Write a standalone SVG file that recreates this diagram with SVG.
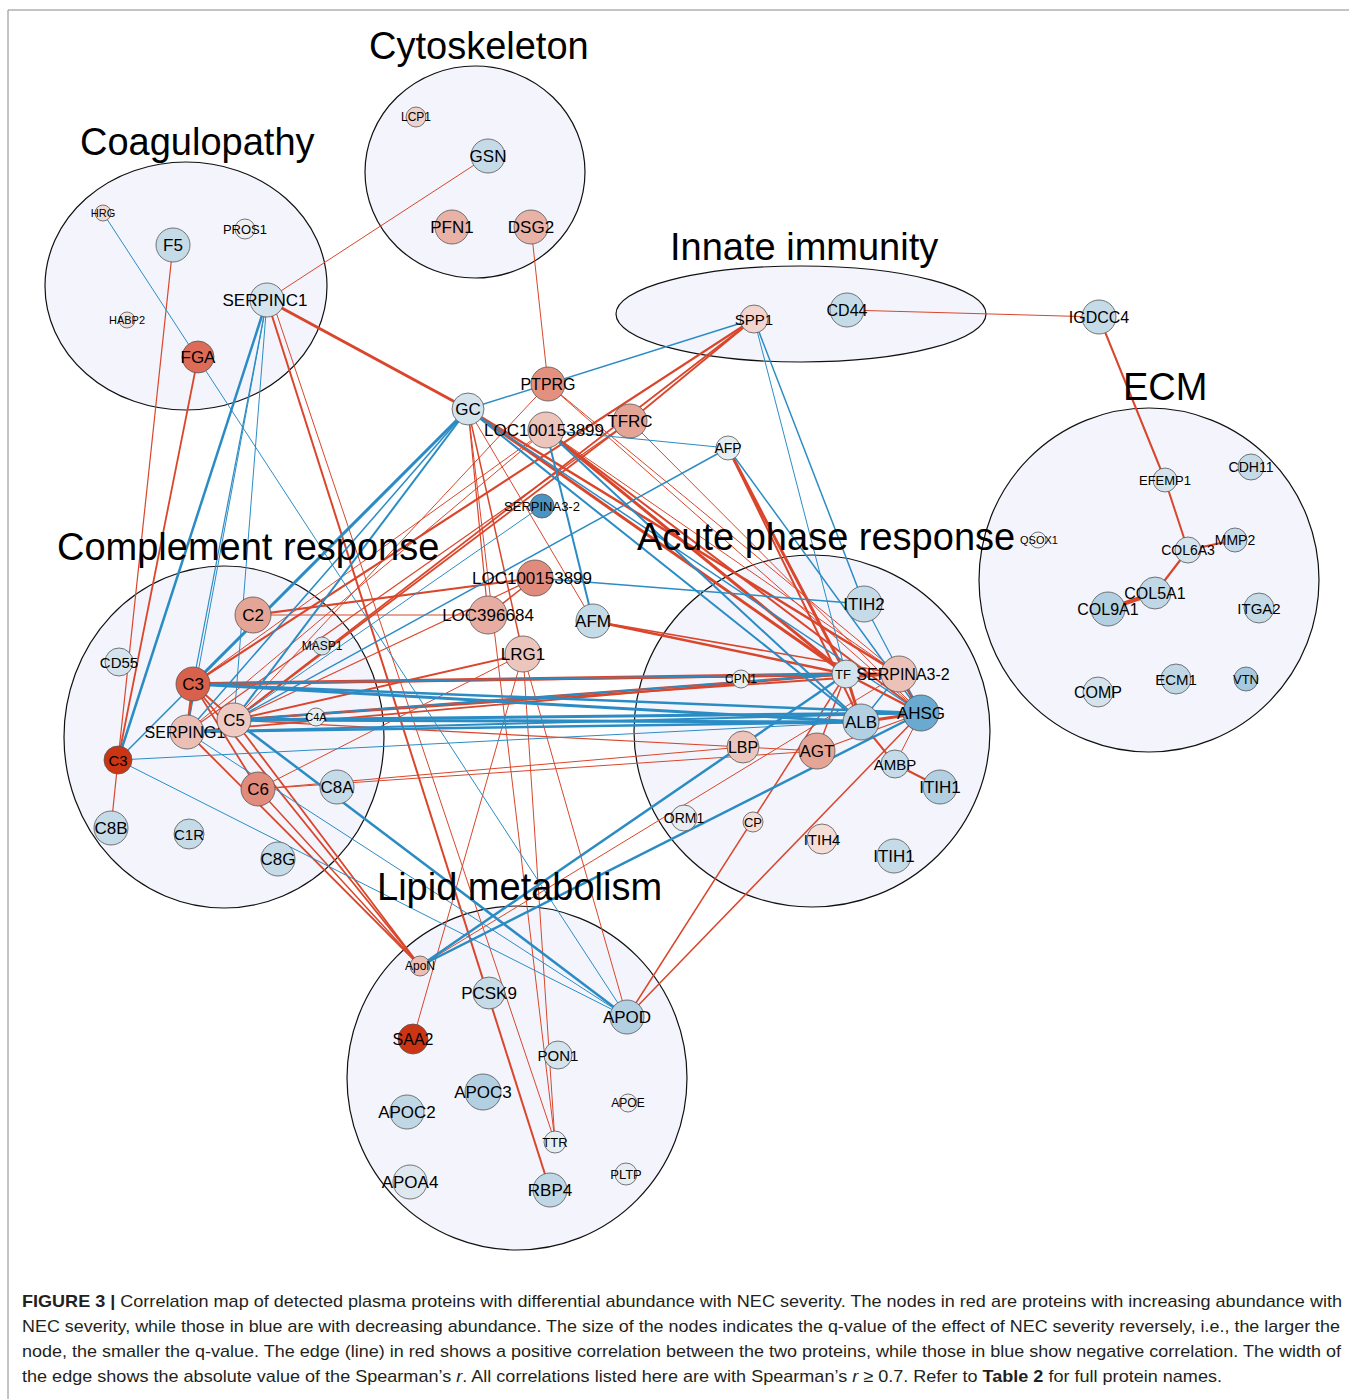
<svg xmlns="http://www.w3.org/2000/svg" width="1349" height="1399" viewBox="0 0 1349 1399">
<style>
text{font-family:"Liberation Sans",Arial,sans-serif;fill:#000}
.grp{fill:#f4f5fc;stroke:#111;stroke-width:1.2}
.title{font-size:38px}
.n{stroke:#555;stroke-width:0.8}
.lbl{text-anchor:middle;dominant-baseline:central}
.r{stroke:#d9462b;fill:none}
.b{stroke:#2b8cc4;fill:none}
.cap{font-size:17px;fill:#231f20}
</style>
<rect x="0" y="0" width="1349" height="1399" fill="#fff"/>
<path d="M8,1399 V10 H1349" fill="none" stroke="#888" stroke-width="1"/>

<g id="groups">
<ellipse class="grp" cx="186" cy="286" rx="141" ry="124"/>
<ellipse class="grp" cx="475" cy="172" rx="110" ry="106"/>
<ellipse class="grp" cx="801" cy="314" rx="185" ry="48"/>
<ellipse class="grp" cx="1149" cy="580" rx="170" ry="172"/>
<ellipse class="grp" cx="224" cy="737" rx="160" ry="171"/>
<ellipse class="grp" cx="812" cy="731" rx="178" ry="176"/>
<ellipse class="grp" cx="517" cy="1078" rx="170" ry="172"/>
</g>

<g id="connectors">
<g class="r">
<line x1="488" y1="156" x2="267" y2="300" stroke-width="1"/>
<line x1="531" y1="227" x2="548" y2="384" stroke-width="1"/>
<line x1="267" y1="300" x2="468" y2="409" stroke-width="3"/>
<line x1="173" y1="245" x2="118" y2="760" stroke-width="1.2"/>
<line x1="198" y1="357" x2="118" y2="760" stroke-width="1.8"/>
<line x1="118" y1="760" x2="111" y2="828" stroke-width="1.2"/>
<line x1="267" y1="300" x2="550" y2="1190" stroke-width="2"/>
<line x1="272" y1="300" x2="555" y2="1142" stroke-width="1"/>
<line x1="847" y1="310" x2="1099" y2="317" stroke-width="1"/>
<line x1="1099" y1="317" x2="1165" y2="480" stroke-width="2"/>
<line x1="1165" y1="480" x2="1188" y2="550" stroke-width="2"/>
<line x1="1188" y1="550" x2="1235" y2="540" stroke-width="2"/>
<line x1="1188" y1="550" x2="1155" y2="593" stroke-width="2.2"/>
<line x1="1155" y1="593" x2="1108" y2="609" stroke-width="4"/>
<line x1="754" y1="319" x2="630" y2="421" stroke-width="1.8"/>
<line x1="754" y1="319" x2="193" y2="684" stroke-width="2.2"/>
<line x1="754" y1="319" x2="234" y2="720" stroke-width="1.8"/>
<line x1="630" y1="421" x2="234" y2="720" stroke-width="1.8"/>
<line x1="630" y1="421" x2="187" y2="732" stroke-width="1.2"/>
<line x1="548" y1="384" x2="234" y2="720" stroke-width="1"/>
<line x1="548" y1="384" x2="899" y2="674" stroke-width="1"/>
<line x1="548" y1="384" x2="921" y2="713" stroke-width="1"/>
<line x1="546" y1="430" x2="193" y2="684" stroke-width="1"/>
<line x1="546" y1="430" x2="187" y2="732" stroke-width="1"/>
<line x1="468" y1="409" x2="846" y2="674" stroke-width="3"/>
<line x1="468" y1="409" x2="899" y2="674" stroke-width="2.5"/>
<line x1="546" y1="430" x2="846" y2="674" stroke-width="3"/>
<line x1="546" y1="430" x2="921" y2="713" stroke-width="2"/>
<line x1="546" y1="430" x2="899" y2="674" stroke-width="1"/>
<line x1="630" y1="421" x2="921" y2="713" stroke-width="1"/>
<line x1="468" y1="409" x2="488" y2="615" stroke-width="1.2"/>
<line x1="468" y1="409" x2="523" y2="654" stroke-width="1.5"/>
<line x1="468" y1="409" x2="555" y2="1142" stroke-width="1"/>
<line x1="468" y1="409" x2="593" y2="621" stroke-width="1"/>
<line x1="728" y1="448" x2="846" y2="674" stroke-width="3"/>
<line x1="728" y1="448" x2="861" y2="722" stroke-width="2"/>
<line x1="593" y1="621" x2="846" y2="674" stroke-width="2.5"/>
<line x1="593" y1="621" x2="899" y2="674" stroke-width="1.5"/>
<line x1="253" y1="615" x2="535" y2="578" stroke-width="2"/>
<line x1="253" y1="615" x2="488" y2="615" stroke-width="1"/>
<line x1="535" y1="578" x2="488" y2="615" stroke-width="1.5"/>
<line x1="234" y1="720" x2="535" y2="578" stroke-width="1.2"/>
<line x1="193" y1="684" x2="846" y2="674" stroke-width="3.5"/>
<line x1="193" y1="684" x2="899" y2="674" stroke-width="2.5"/>
<line x1="234" y1="720" x2="846" y2="674" stroke-width="2.5"/>
<line x1="234" y1="720" x2="899" y2="674" stroke-width="2"/>
<line x1="187" y1="732" x2="846" y2="674" stroke-width="1.8"/>
<line x1="193" y1="684" x2="234" y2="720" stroke-width="2"/>
<line x1="193" y1="684" x2="187" y2="732" stroke-width="3"/>
<line x1="193" y1="684" x2="258" y2="789" stroke-width="1.8"/>
<line x1="193" y1="684" x2="420" y2="966" stroke-width="1.8"/>
<line x1="234" y1="720" x2="420" y2="966" stroke-width="1.8"/>
<line x1="187" y1="732" x2="420" y2="966" stroke-width="1.8"/>
<line x1="258" y1="789" x2="420" y2="966" stroke-width="1.5"/>
<line x1="234" y1="720" x2="523" y2="654" stroke-width="2"/>
<line x1="258" y1="789" x2="523" y2="654" stroke-width="1"/>
<line x1="258" y1="789" x2="743" y2="747" stroke-width="1"/>
<line x1="258" y1="789" x2="817" y2="751" stroke-width="1"/>
<line x1="234" y1="720" x2="743" y2="747" stroke-width="1.2"/>
<line x1="743" y1="747" x2="817" y2="751" stroke-width="1"/>
<line x1="523" y1="654" x2="413" y2="1039" stroke-width="1"/>
<line x1="523" y1="654" x2="555" y2="1142" stroke-width="1"/>
<line x1="523" y1="654" x2="627" y2="1017" stroke-width="1"/>
<line x1="420" y1="966" x2="899" y2="674" stroke-width="1"/>
<line x1="627" y1="1017" x2="846" y2="674" stroke-width="1.5"/>
<line x1="627" y1="1017" x2="921" y2="713" stroke-width="1.5"/>
<line x1="846" y1="674" x2="861" y2="722" stroke-width="3"/>
<line x1="846" y1="674" x2="921" y2="713" stroke-width="2.5"/>
<line x1="846" y1="674" x2="899" y2="674" stroke-width="3"/>
<line x1="899" y1="674" x2="921" y2="713" stroke-width="3"/>
<line x1="861" y1="722" x2="921" y2="713" stroke-width="3"/>
<line x1="861" y1="722" x2="895" y2="764" stroke-width="2"/>
<line x1="895" y1="764" x2="940" y2="787" stroke-width="2"/>
<line x1="817" y1="751" x2="846" y2="674" stroke-width="1.5"/>
<line x1="817" y1="751" x2="921" y2="713" stroke-width="1.2"/>
<line x1="895" y1="764" x2="921" y2="713" stroke-width="1"/>
</g>
<g class="b">
<line x1="103" y1="213" x2="627" y2="1017" stroke-width="1"/>
<line x1="267" y1="300" x2="118" y2="760" stroke-width="2.5"/>
<line x1="267" y1="300" x2="193" y2="684" stroke-width="1.2"/>
<line x1="267" y1="300" x2="234" y2="720" stroke-width="1"/>
<line x1="267" y1="300" x2="187" y2="732" stroke-width="1"/>
<line x1="468" y1="409" x2="754" y2="319" stroke-width="1.5"/>
<line x1="468" y1="409" x2="193" y2="684" stroke-width="3"/>
<line x1="468" y1="409" x2="234" y2="720" stroke-width="2"/>
<line x1="468" y1="409" x2="187" y2="732" stroke-width="1.5"/>
<line x1="468" y1="409" x2="118" y2="760" stroke-width="1.5"/>
<line x1="546" y1="430" x2="728" y2="448" stroke-width="1.2"/>
<line x1="546" y1="430" x2="593" y2="621" stroke-width="2"/>
<line x1="546" y1="430" x2="861" y2="722" stroke-width="2"/>
<line x1="468" y1="409" x2="861" y2="722" stroke-width="2"/>
<line x1="468" y1="409" x2="921" y2="713" stroke-width="1.5"/>
<line x1="728" y1="448" x2="921" y2="713" stroke-width="1.5"/>
<line x1="728" y1="448" x2="234" y2="720" stroke-width="1.5"/>
<line x1="542" y1="506" x2="234" y2="720" stroke-width="1"/>
<line x1="535" y1="578" x2="864" y2="604" stroke-width="1.5"/>
<line x1="754" y1="319" x2="846" y2="674" stroke-width="1"/>
<line x1="754" y1="319" x2="864" y2="604" stroke-width="1.5"/>
<line x1="864" y1="604" x2="921" y2="713" stroke-width="1.2"/>
<line x1="193" y1="684" x2="861" y2="722" stroke-width="3"/>
<line x1="193" y1="684" x2="921" y2="713" stroke-width="2.5"/>
<line x1="234" y1="720" x2="861" y2="722" stroke-width="3"/>
<line x1="234" y1="720" x2="921" y2="713" stroke-width="3"/>
<line x1="187" y1="732" x2="861" y2="722" stroke-width="2.5"/>
<line x1="187" y1="732" x2="921" y2="713" stroke-width="2"/>
<line x1="234" y1="720" x2="846" y2="674" stroke-width="1.5"/>
<line x1="193" y1="684" x2="846" y2="674" stroke-width="1.5"/>
<line x1="118" y1="760" x2="861" y2="722" stroke-width="1"/>
<line x1="118" y1="760" x2="627" y2="1017" stroke-width="1"/>
<line x1="187" y1="732" x2="627" y2="1017" stroke-width="1"/>
<line x1="234" y1="720" x2="627" y2="1017" stroke-width="2.5"/>
<line x1="420" y1="966" x2="846" y2="674" stroke-width="2.5"/>
<line x1="420" y1="966" x2="921" y2="713" stroke-width="2.5"/>
<line x1="861" y1="722" x2="899" y2="674" stroke-width="1.5"/>
</g>
</g>

<g id="nodes">
<g id="n-HRG"><circle class="n" cx="103" cy="213" r="8" fill="#f2d9d4"/><text class="lbl" x="103" y="213" font-size="11">HRG</text></g>
<g id="n-F5"><circle class="n" cx="173" cy="245" r="17" fill="#c5dbe8"/><text class="lbl" x="173" y="245" font-size="17">F5</text></g>
<g id="n-PROS1"><circle class="n" cx="245" cy="229" r="10" fill="#eef0f2"/><text class="lbl" x="245" y="229" font-size="13">PROS1</text></g>
<g id="n-SERPINC1"><circle class="n" cx="267" cy="300" r="17" fill="#d4e3ec"/><text class="lbl" x="265" y="300" font-size="17">SERPINC1</text></g>
<g id="n-HABP2"><circle class="n" cx="127" cy="320" r="8" fill="#f2e2de"/><text class="lbl" x="127" y="320" font-size="11">HABP2</text></g>
<g id="n-FGA"><circle class="n" cx="198" cy="357" r="16" fill="#dc6b58"/><text class="lbl" x="198" y="357" font-size="17">FGA</text></g>
<g id="n-LCP1"><circle class="n" cx="416" cy="117" r="10" fill="#f0d2cc"/><text class="lbl" x="416" y="117" font-size="12">LCP1</text></g>
<g id="n-GSN"><circle class="n" cx="488" cy="156" r="17" fill="#c5dbe8"/><text class="lbl" x="488" y="156" font-size="17">GSN</text></g>
<g id="n-PFN1"><circle class="n" cx="452" cy="227" r="17" fill="#e8b2a7"/><text class="lbl" x="452" y="227" font-size="17">PFN1</text></g>
<g id="n-DSG2"><circle class="n" cx="531" cy="227" r="17" fill="#e8b2a7"/><text class="lbl" x="531" y="227" font-size="17">DSG2</text></g>
<g id="n-SPP1"><circle class="n" cx="754" cy="319" r="14" fill="#f2d5ce"/><text class="lbl" x="754" y="319" font-size="15">SPP1</text></g>
<g id="n-CD44"><circle class="n" cx="847" cy="310" r="17" fill="#c5dbe8"/><text class="lbl" x="847" y="310" font-size="16">CD44</text></g>
<g id="n-IGDCC4"><circle class="n" cx="1099" cy="317" r="17" fill="#c5dbe8"/><text class="lbl" x="1099" y="317" font-size="16">IGDCC4</text></g>
<g id="n-EFEMP1"><circle class="n" cx="1165" cy="480" r="12" fill="#d4e3ec"/><text class="lbl" x="1165" y="480" font-size="13">EFEMP1</text></g>
<g id="n-CDH11"><circle class="n" cx="1251" cy="467" r="13" fill="#c5dbe8"/><text class="lbl" x="1251" y="467" font-size="14">CDH11</text></g>
<g id="n-QSOX1"><circle class="n" cx="1038" cy="540" r="8" fill="#f2f3f5"/><text class="lbl" x="1039" y="540" font-size="11">QSOX1</text></g>
<g id="n-COL6A3"><circle class="n" cx="1188" cy="550" r="13" fill="#d4e3ec"/><text class="lbl" x="1188" y="550" font-size="14">COL6A3</text></g>
<g id="n-MMP2"><circle class="n" cx="1235" cy="540" r="12" fill="#c5dbe8"/><text class="lbl" x="1235" y="540" font-size="14">MMP2</text></g>
<g id="n-COL9A1"><circle class="n" cx="1108" cy="609" r="17" fill="#b3d0e2"/><text class="lbl" x="1108" y="609" font-size="16">COL9A1</text></g>
<g id="n-COL5A1"><circle class="n" cx="1155" cy="593" r="16" fill="#c0d8e6"/><text class="lbl" x="1155" y="593" font-size="16">COL5A1</text></g>
<g id="n-ITGA2"><circle class="n" cx="1259" cy="608" r="15" fill="#c5dbe8"/><text class="lbl" x="1259" y="608" font-size="15">ITGA2</text></g>
<g id="n-COMP"><circle class="n" cx="1098" cy="692" r="15" fill="#d4e3ec"/><text class="lbl" x="1098" y="692" font-size="16">COMP</text></g>
<g id="n-ECM1"><circle class="n" cx="1176" cy="679" r="15" fill="#c0d8e6"/><text class="lbl" x="1176" y="679" font-size="15">ECM1</text></g>
<g id="n-VTN"><circle class="n" cx="1246" cy="679" r="12" fill="#a6c9df"/><text class="lbl" x="1246" y="679" font-size="13">VTN</text></g>
<g id="n-PTPRG"><circle class="n" cx="548" cy="384" r="17" fill="#e3907f"/><text class="lbl" x="548" y="384" font-size="16">PTPRG</text></g>
<g id="n-GC"><circle class="n" cx="468" cy="409" r="16" fill="#d4e3ec"/><text class="lbl" x="468" y="409" font-size="17">GC</text></g>
<g id="n-LOC100153899a"><circle class="n" cx="546" cy="430" r="18" fill="#ecc5bd"/><text class="lbl" x="544" y="430" font-size="17">LOC100153899</text></g>
<g id="n-TFRC"><circle class="n" cx="630" cy="421" r="17" fill="#e5a596"/><text class="lbl" x="630" y="421" font-size="17">TFRC</text></g>
<g id="n-AFP"><circle class="n" cx="728" cy="448" r="12" fill="#e7eef2"/><text class="lbl" x="728" y="448" font-size="14">AFP</text></g>
<g id="n-SERPINA3-2a"><circle class="n" cx="542" cy="506" r="12" fill="#4b93c3"/><text class="lbl" x="542" y="506" font-size="13">SERPINA3-2</text></g>
<g id="n-LOC100153899b"><circle class="n" cx="535" cy="578" r="18" fill="#e08b7c"/><text class="lbl" x="532" y="578" font-size="17">LOC100153899</text></g>
<g id="n-LOC396684"><circle class="n" cx="488" cy="615" r="19" fill="#e8ada2"/><text class="lbl" x="488" y="615" font-size="17">LOC396684</text></g>
<g id="n-AFM"><circle class="n" cx="593" cy="621" r="17" fill="#c5dbe8"/><text class="lbl" x="593" y="621" font-size="17">AFM</text></g>
<g id="n-LRG1"><circle class="n" cx="523" cy="654" r="18" fill="#ecc5bd"/><text class="lbl" x="523" y="654" font-size="17">LRG1</text></g>
<g id="n-C2"><circle class="n" cx="253" cy="615" r="18" fill="#e5a596"/><text class="lbl" x="253" y="615" font-size="17">C2</text></g>
<g id="n-CD55"><circle class="n" cx="119" cy="662" r="14" fill="#d4e3ec"/><text class="lbl" x="119" y="662" font-size="15">CD55</text></g>
<g id="n-MASP1"><circle class="n" cx="322" cy="646" r="9" fill="#d4e3ec"/><text class="lbl" x="322" y="646" font-size="12">MASP1</text></g>
<g id="n-C3a"><circle class="n" cx="193" cy="684" r="17" fill="#d9604a"/><text class="lbl" x="193" y="684" font-size="17">C3</text></g>
<g id="n-SERPING1"><circle class="n" cx="187" cy="732" r="17" fill="#ecbfb6"/><text class="lbl" x="185" y="732" font-size="16">SERPING1</text></g>
<g id="n-C5"><circle class="n" cx="234" cy="720" r="17" fill="#efcac2"/><text class="lbl" x="234" y="720" font-size="17">C5</text></g>
<g id="n-C4A"><circle class="n" cx="316" cy="717" r="9" fill="#e7eef2"/><text class="lbl" x="316" y="717" font-size="11">C4A</text></g>
<g id="n-C3b"><circle class="n" cx="118" cy="760" r="14" fill="#cc3514"/><text class="lbl" x="118" y="760" font-size="15">C3</text></g>
<g id="n-C6"><circle class="n" cx="258" cy="789" r="17" fill="#e08b7c"/><text class="lbl" x="258" y="789" font-size="17">C6</text></g>
<g id="n-C8A"><circle class="n" cx="337" cy="787" r="17" fill="#c5dbe8"/><text class="lbl" x="337" y="787" font-size="17">C8A</text></g>
<g id="n-C8B"><circle class="n" cx="111" cy="828" r="17" fill="#c5dbe8"/><text class="lbl" x="111" y="828" font-size="17">C8B</text></g>
<g id="n-C1R"><circle class="n" cx="189" cy="834" r="15" fill="#c5dbe8"/><text class="lbl" x="189" y="834" font-size="15">C1R</text></g>
<g id="n-C8G"><circle class="n" cx="278" cy="859" r="17" fill="#c5dbe8"/><text class="lbl" x="278" y="859" font-size="17">C8G</text></g>
<g id="n-ITIH2"><circle class="n" cx="864" cy="604" r="18" fill="#c5dbe8"/><text class="lbl" x="864" y="604" font-size="17">ITIH2</text></g>
<g id="n-CPN1"><circle class="n" cx="741" cy="679" r="9" fill="#e7eef2"/><text class="lbl" x="741" y="679" font-size="12">CPN1</text></g>
<g id="n-TF"><circle class="n" cx="846" cy="674" r="14" fill="#d4e3ec"/><text class="lbl" x="843" y="674" font-size="13">TF</text></g>
<g id="n-SERPINA3-2b"><circle class="n" cx="899" cy="674" r="18" fill="#ecc1b8"/><text class="lbl" x="903" y="674" font-size="16">SERPINA3-2</text></g>
<g id="n-ALB"><circle class="n" cx="861" cy="722" r="18" fill="#b3d0e2"/><text class="lbl" x="861" y="722" font-size="17">ALB</text></g>
<g id="n-AHSG"><circle class="n" cx="921" cy="713" r="18" fill="#6aaad0"/><text class="lbl" x="921" y="713" font-size="17">AHSG</text></g>
<g id="n-LBP"><circle class="n" cx="743" cy="747" r="16" fill="#ecc5bd"/><text class="lbl" x="743" y="747" font-size="16">LBP</text></g>
<g id="n-AGT"><circle class="n" cx="817" cy="751" r="18" fill="#e5a596"/><text class="lbl" x="817" y="751" font-size="17">AGT</text></g>
<g id="n-AMBP"><circle class="n" cx="895" cy="764" r="14" fill="#c5dbe8"/><text class="lbl" x="895" y="764" font-size="15">AMBP</text></g>
<g id="n-ITIH1a"><circle class="n" cx="940" cy="787" r="17" fill="#b3d0e2"/><text class="lbl" x="940" y="787" font-size="17">ITIH1</text></g>
<g id="n-ORM1"><circle class="n" cx="684" cy="818" r="13" fill="#e7eef2"/><text class="lbl" x="684" y="818" font-size="14">ORM1</text></g>
<g id="n-CP"><circle class="n" cx="753" cy="822" r="10" fill="#f5ddd8"/><text class="lbl" x="753" y="822" font-size="13">CP</text></g>
<g id="n-ITIH4"><circle class="n" cx="822" cy="839" r="15" fill="#f5ddd8"/><text class="lbl" x="822" y="839" font-size="15">ITIH4</text></g>
<g id="n-ITIH1b"><circle class="n" cx="894" cy="856" r="17" fill="#c5dbe8"/><text class="lbl" x="894" y="856" font-size="17">ITIH1</text></g>
<g id="n-ApoN"><circle class="n" cx="420" cy="966" r="10" fill="#ecbfb6"/><text class="lbl" x="420" y="966" font-size="12">ApoN</text></g>
<g id="n-PCSK9"><circle class="n" cx="489" cy="993" r="16" fill="#c5dbe8"/><text class="lbl" x="489" y="993" font-size="17">PCSK9</text></g>
<g id="n-APOD"><circle class="n" cx="627" cy="1017" r="17" fill="#b3d0e2"/><text class="lbl" x="627" y="1017" font-size="17">APOD</text></g>
<g id="n-SAA2"><circle class="n" cx="413" cy="1039" r="15" fill="#cc3514"/><text class="lbl" x="413" y="1039" font-size="16">SAA2</text></g>
<g id="n-PON1"><circle class="n" cx="558" cy="1055" r="14" fill="#d4e3ec"/><text class="lbl" x="558" y="1055" font-size="15">PON1</text></g>
<g id="n-APOC3"><circle class="n" cx="483" cy="1092" r="18" fill="#b3d0e2"/><text class="lbl" x="483" y="1092" font-size="17">APOC3</text></g>
<g id="n-APOE"><circle class="n" cx="628" cy="1103" r="9" fill="#eef1f3"/><text class="lbl" x="628" y="1103" font-size="12">APOE</text></g>
<g id="n-APOC2"><circle class="n" cx="407" cy="1112" r="17" fill="#c0d8e6"/><text class="lbl" x="407" y="1112" font-size="17">APOC2</text></g>
<g id="n-TTR"><circle class="n" cx="555" cy="1142" r="11" fill="#e7eef2"/><text class="lbl" x="555" y="1142" font-size="13">TTR</text></g>
<g id="n-PLTP"><circle class="n" cx="626" cy="1174" r="11" fill="#e7eef2"/><text class="lbl" x="626" y="1174" font-size="13">PLTP</text></g>
<g id="n-APOA4"><circle class="n" cx="410" cy="1182" r="17" fill="#dfe8ee"/><text class="lbl" x="410" y="1182" font-size="17">APOA4</text></g>
<g id="n-RBP4"><circle class="n" cx="550" cy="1190" r="17" fill="#c0d8e6"/><text class="lbl" x="550" y="1190" font-size="17">RBP4</text></g>
</g>

<g id="titles">
<text class="title" x="80" y="155">Coagulopathy</text>
<text class="title" x="369" y="59">Cytoskeleton</text>
<text class="title" x="670" y="260">Innate immunity</text>
<text class="title" x="1123" y="400">ECM</text>
<text class="title" x="57" y="560">Complement response</text>
<text class="title" x="637" y="550">Acute phase response</text>
<text class="title" x="377" y="900">Lipid metabolism</text>
</g>

<g id="caption">
<text class="cap" x="22" y="1307" textLength="1320" lengthAdjust="spacingAndGlyphs"><tspan font-weight="bold">FIGURE 3 |</tspan> Correlation map of detected plasma proteins with differential abundance with NEC severity. The nodes in red are proteins with increasing abundance with</text>
<text class="cap" x="22" y="1332" textLength="1318" lengthAdjust="spacingAndGlyphs">NEC severity, while those in blue are with decreasing abundance. The size of the nodes indicates the q-value of the effect of NEC severity reversely, i.e., the larger the</text>
<text class="cap" x="22" y="1357" textLength="1319" lengthAdjust="spacingAndGlyphs">node, the smaller the q-value. The edge (line) in red shows a positive correlation between the two proteins, while those in blue show negative correlation. The width of</text>
<text class="cap" x="22" y="1382" textLength="1200" lengthAdjust="spacingAndGlyphs">the edge shows the absolute value of the Spearman’s <tspan font-style="italic">r</tspan>. All correlations listed here are with Spearman’s <tspan font-style="italic">r</tspan> ≥ 0.7. Refer to <tspan font-weight="bold">Table 2</tspan> for full protein names.</text>
</g>
</svg>
